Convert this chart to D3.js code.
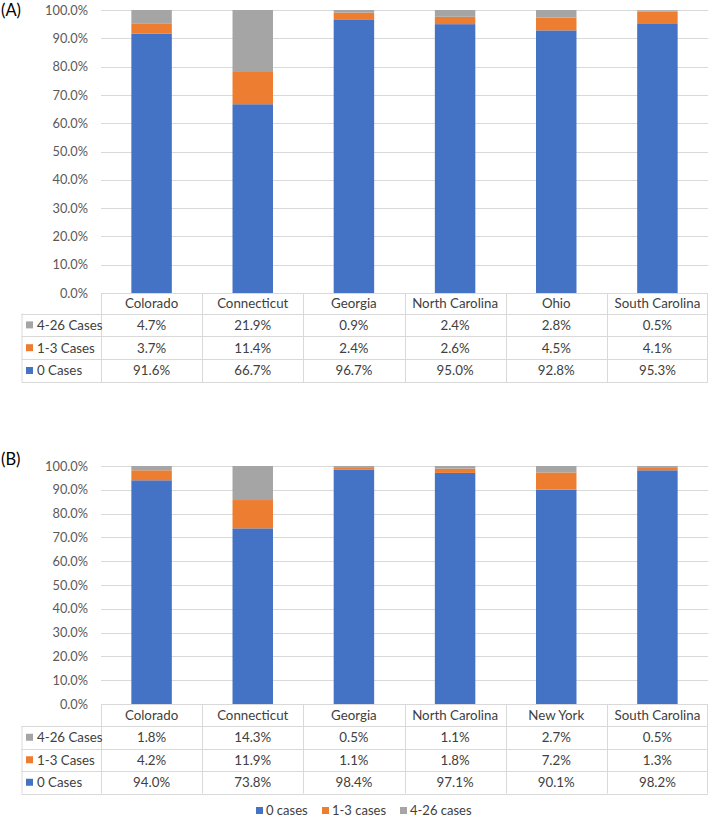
<!DOCTYPE html>
<html><head><meta charset="utf-8">
<script src="https://cdn.jsdelivr.net/npm/d3@7"></script>
<style>body{margin:0;background:#fff}svg{display:block}</style>
</head><body>
<script>
const seriesKeys = ["zero", "oneToThree", "fourTo26"];
const seriesTableLabels = ["0 Cases", "1-3 Cases", "4-26 Cases"];
const legendLabels = ["0 cases", "1-3 cases", "4-26 cases"];
const colors = ["#4472C4", "#ED7D31", "#A5A5A5"];
const tickValues = [0, 10, 20, 30, 40, 50, 60, 70, 80, 90, 100];

const categoriesA = ["Colorado", "Connecticut", "Georgia", "North Carolina", "Ohio", "South Carolina"];
const zeroA = [91.6, 66.7, 96.7, 95.0, 92.8, 95.3];
const oneToThreeA = [3.7, 11.4, 2.4, 2.6, 4.5, 4.1];
const fourTo26A = [4.7, 21.9, 0.9, 2.4, 2.8, 0.5];

const categoriesB = ["Colorado", "Connecticut", "Georgia", "North Carolina", "New York", "South Carolina"];
const zeroB = [94.0, 73.8, 98.4, 97.1, 90.1, 98.2];
const oneToThreeB = [4.2, 11.9, 1.1, 1.8, 7.2, 1.3];
const fourTo26B = [1.8, 14.3, 0.5, 1.1, 2.7, 0.5];

const W = 709, H = 819;
const FONT = "Lato, 'Liberation Sans', sans-serif";
const svg = d3.select("body").append("svg").attr("width", W).attr("height", H)
  .style("font-family", FONT);

function panel(label, labelY, cats, vals, top, bottom, rowH, headerH) {
  const rows = cats.map((c, i) => ({cat: c, zero: vals[0][i], oneToThree: vals[1][i], fourTo26: vals[2][i]}));
  const left = 101, right = 708, tableLeft = 21.5;
  const x = d3.scaleBand().domain(cats).range([left, right]).paddingInner(0.6).paddingOuter(0.3);
  const xc = d3.scaleBand().domain(cats).range([left, right]);
  const y = d3.scaleLinear().domain([0, 100]).range([bottom, top]);
  const g = svg.append("g");

  g.append("text").attr("x", 1).attr("y", labelY).attr("font-size", 16.5).attr("fill", "#000").text(label);

  // gridlines
  g.append("g").selectAll("line").data(tickValues.filter(d => d > 0)).join("line")
    .attr("x1", left).attr("x2", right).attr("y1", d => Math.round(y(d)) + 0.5).attr("y2", d => Math.round(y(d)) + 0.5)
    .attr("stroke", "#D9D9D9").attr("stroke-width", 1);

  // y axis labels
  const yAxis = d3.axisLeft(y).tickValues(tickValues).tickSize(0).tickPadding(13)
    .tickFormat(d => d.toFixed(1) + "%");
  const ya = g.append("g").attr("transform", `translate(${left},0)`).call(yAxis);
  ya.select(".domain").remove();
  ya.selectAll("text").attr("font-size", 12.8).attr("fill", "#595959").attr("font-family", FONT);

  // bars
  const stack = d3.stack().keys(seriesKeys)(rows);
  g.append("g").selectAll("g").data(stack).join("g").attr("fill", (d, i) => colors[i])
    .selectAll("rect").data(d => d).join("rect")
    .attr("x", d => x(d.data.cat)).attr("width", x.bandwidth())
    .attr("y", d => y(Math.min(100, d[1]))).attr("height", d => y(d[0]) - y(Math.min(100, d[1])));

  // table
  const tg = g.append("g");
  const lineC = "#D9D9D9";
  const tableBottom = bottom + headerH + 3 * rowH;
  tg.append("line").attr("x1", left).attr("x2", right).attr("y1", bottom + 0.5).attr("y2", bottom + 0.5).attr("stroke", lineC);
  for (let r = 0; r <= 3; r++) {
    const yy = Math.round(bottom + headerH + r * rowH) + 0.5;
    tg.append("line").attr("x1", tableLeft).attr("x2", right).attr("y1", yy).attr("y2", yy).attr("stroke", lineC);
  }
  tg.append("line").attr("x1", tableLeft + 0.5).attr("x2", tableLeft + 0.5).attr("y1", bottom + headerH).attr("y2", tableBottom).attr("stroke", lineC);
  cats.forEach((c, i) => {
    const xx = Math.round(xc(c)) + 0.5;
    tg.append("line").attr("x1", xx).attr("x2", xx).attr("y1", bottom).attr("y2", tableBottom).attr("stroke", lineC);
  });
  tg.append("line").attr("x1", right - 0.5).attr("x2", right - 0.5).attr("y1", bottom).attr("y2", tableBottom).attr("stroke", lineC);

  tg.selectAll("text.hdr").data(cats).join("text").attr("class", "hdr")
    .attr("x", d => xc(d) + xc.bandwidth() / 2).attr("y", bottom + headerH / 2 + 4.8)
    .attr("text-anchor", "middle").attr("font-size", 13.3).attr("fill", "#404040").text(d => d);

  const order = [2, 1, 0];
  order.forEach((si, r) => {
    const cy = bottom + headerH + r * rowH + rowH / 2;
    tg.append("rect").attr("x", 26).attr("y", cy - 3.5).attr("width", 7).attr("height", 7).attr("fill", colors[si]);
    tg.append("text").attr("x", 37).attr("y", cy + 4.8).attr("font-size", 13.3).attr("fill", "#404040").text(seriesTableLabels[si]);
    tg.append("g").selectAll("text").data(rows).join("text")
      .attr("x", d => xc(d.cat) + xc.bandwidth() / 2).attr("y", cy + 4.8)
      .attr("text-anchor", "middle").attr("font-size", 13.3).attr("fill", "#404040")
      .text(d => d[seriesKeys[si]].toFixed(1) + "%");
  });
}

panel("(A)", 16, categoriesA, [zeroA, oneToThreeA, fourTo26A], 10, 293, 22.8, 20.5);
panel("(B)", 465, categoriesB, [zeroB, oneToThreeB, fourTo26B], 466, 704, 22.5, 22);

// legend
const legend = svg.append("g").attr("transform", "translate(0,811)");
const legendX = [256, 322, 400];
legendLabels.forEach((l, i) => {
  legend.append("rect").attr("x", legendX[i]).attr("y", -4).attr("width", 7).attr("height", 7).attr("fill", colors[i]);
  legend.append("text").attr("x", legendX[i] + 10).attr("y", 3.5).attr("font-size", 13).attr("fill", "#404040").text(l);
});
</script>
</body></html>
